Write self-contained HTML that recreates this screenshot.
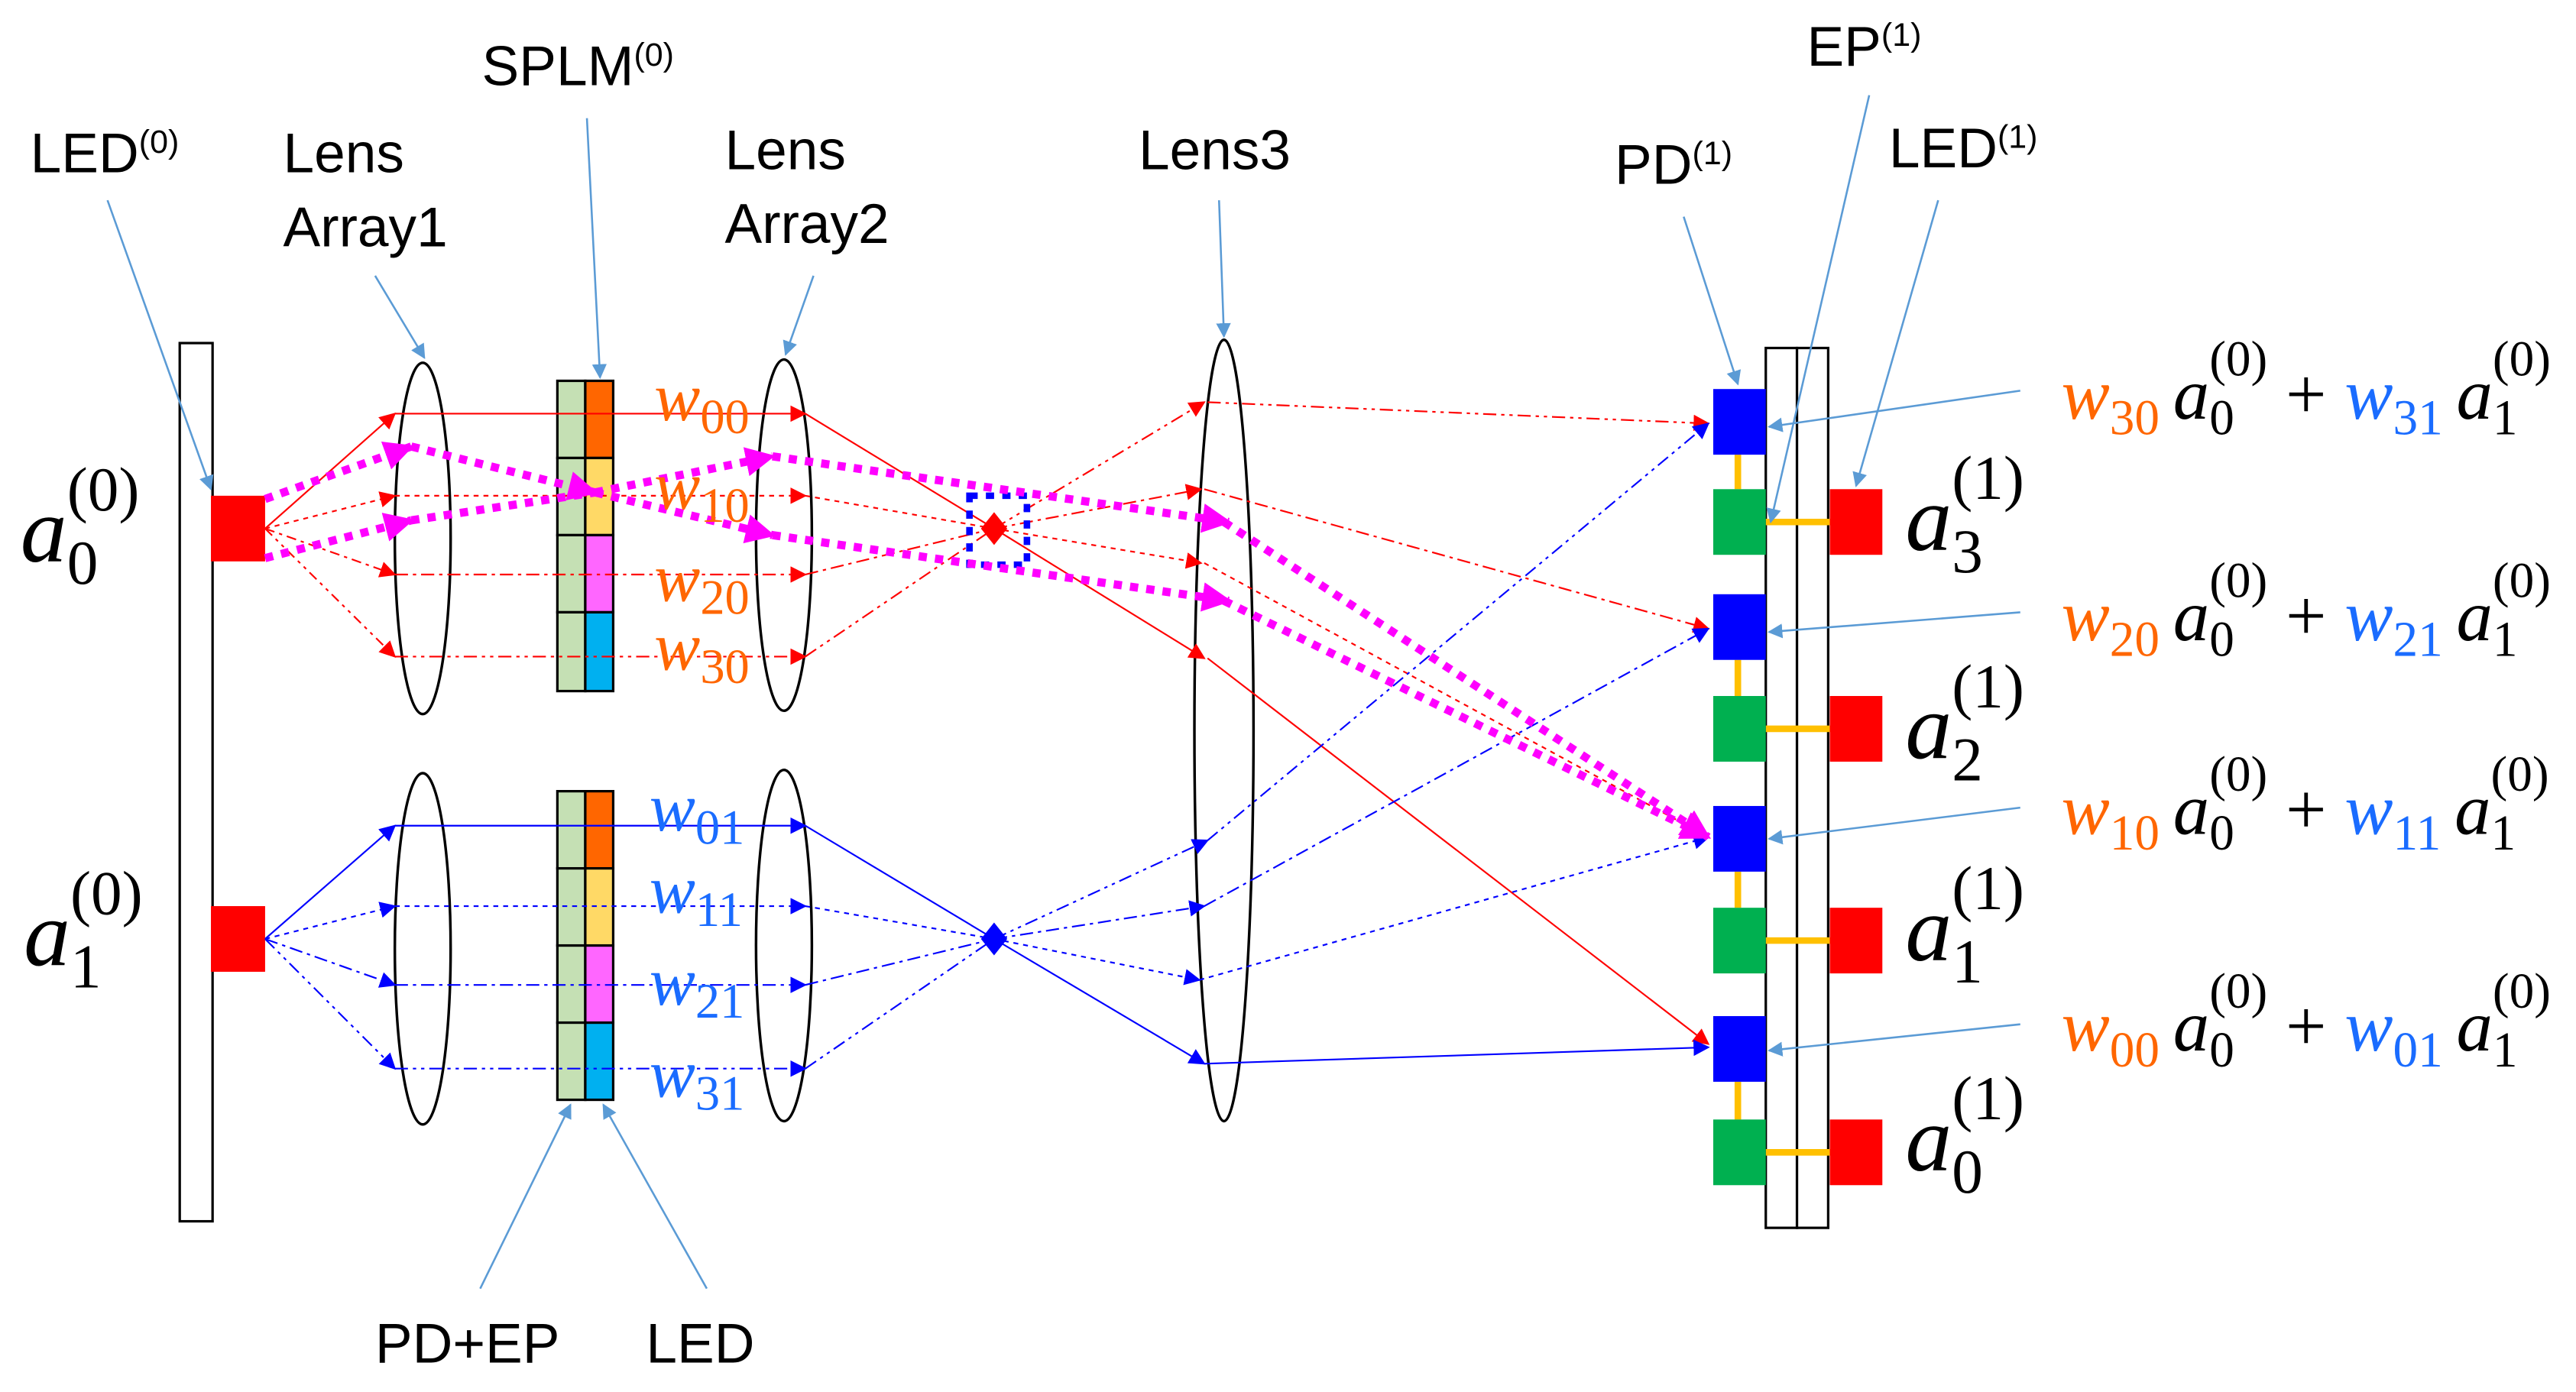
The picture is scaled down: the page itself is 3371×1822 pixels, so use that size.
<!DOCTYPE html>
<html><head><meta charset="utf-8"><style>
html,body{margin:0;padding:0;background:#fff;}
svg{display:block;}
.lbl{font-family:"Liberation Sans","DejaVu Sans",sans-serif;font-size:34px;fill:#000;}
.sup{font-size:20px;}
.m{font-family:"Liberation Serif","DejaVu Serif",serif;font-style:italic;}
.n{font-family:"Liberation Serif","DejaVu Serif",serif;font-style:normal;}
</style></head><body>
<svg width="3371" height="1822" viewBox="0 0 1568 848" xmlns="http://www.w3.org/2000/svg">
<defs>
<marker id="ar" viewBox="0 0 10 10" refX="9" refY="5" markerWidth="10" markerHeight="10" orient="auto" markerUnits="userSpaceOnUse"><path d="M0,0L10,5L0,10z" fill="#f00"/></marker>
<marker id="ab" viewBox="0 0 10 10" refX="9" refY="5" markerWidth="10" markerHeight="10" orient="auto" markerUnits="userSpaceOnUse"><path d="M0,0L10,5L0,10z" fill="#00f"/></marker>
<marker id="am" viewBox="0 0 10 10" refX="9" refY="5" markerWidth="18" markerHeight="18" orient="auto" markerUnits="userSpaceOnUse"><path d="M0,0L10,5L0,10z" fill="#f0f"/></marker>
<marker id="al" viewBox="0 0 10 10" refX="9" refY="5" markerWidth="9" markerHeight="9" orient="auto" markerUnits="userSpaceOnUse"><path d="M0,0L10,5L0,10z" fill="#5b9bd5"/></marker>
</defs>

<rect x="109" y="209" width="20" height="535" fill="#fff" stroke="#000" stroke-width="1.5"/>
<rect x="128" y="302" width="33" height="40" fill="#f00"/>
<rect x="128" y="552" width="33" height="40" fill="#f00"/>

<g fill="none" stroke="#000" stroke-width="1.6">
<ellipse cx="257" cy="328" rx="17" ry="107"/>
<ellipse cx="257" cy="578" rx="17" ry="107"/>
<ellipse cx="477" cy="326" rx="17" ry="107"/>
<ellipse cx="477" cy="576" rx="17" ry="107"/>
<ellipse cx="745" cy="445" rx="18" ry="238"/>
</g>

<g stroke="#000" stroke-width="1.5">
<rect x="339" y="232" width="17" height="47" fill="#c5e0b4"/><rect x="356" y="232" width="17" height="47" fill="#ff6600"/>
<rect x="339" y="279" width="17" height="47" fill="#c5e0b4"/><rect x="356" y="279" width="17" height="47" fill="#ffd966"/>
<rect x="339" y="326" width="17" height="47" fill="#c5e0b4"/><rect x="356" y="326" width="17" height="47" fill="#ff66ff"/>
<rect x="339" y="373" width="17" height="48" fill="#c5e0b4"/><rect x="356" y="373" width="17" height="48" fill="#00b0f0"/>
<rect x="339" y="482" width="17" height="47" fill="#c5e0b4"/><rect x="356" y="482" width="17" height="47" fill="#ff6600"/>
<rect x="339" y="529" width="17" height="47" fill="#c5e0b4"/><rect x="356" y="529" width="17" height="47" fill="#ffd966"/>
<rect x="339" y="576" width="17" height="47" fill="#c5e0b4"/><rect x="356" y="576" width="17" height="47" fill="#ff66ff"/>
<rect x="339" y="623" width="17" height="47" fill="#c5e0b4"/><rect x="356" y="623" width="17" height="47" fill="#00b0f0"/>
</g>

<g fill="none" stroke="#f00" stroke-width="1">
<path d="M161,322L240,252" marker-end="url(#ar)"/>
<path d="M161,322L240,302" stroke-dasharray="3,3" marker-end="url(#ar)"/>
<path d="M161,322L240,350" stroke-dasharray="6,3,2,3" marker-end="url(#ar)"/>
<path d="M161,322L240,400" stroke-dasharray="6,3,2,3,2,3" marker-end="url(#ar)"/>
<path d="M240,252L490,252" marker-end="url(#ar)"/>
<path d="M240,302L490,302" stroke-dasharray="3,3" marker-end="url(#ar)"/>
<path d="M240,350L490,350" stroke-dasharray="8,3,2,3" marker-end="url(#ar)"/>
<path d="M240,400L490,400" stroke-dasharray="8,3,2,3,2,3" marker-end="url(#ar)"/>
<path d="M735,401L1040,636" marker-end="url(#ar)"/>
<path d="M490,252L605,322"/>
<path d="M490,302L605,322" stroke-dasharray="3,3"/>
<path d="M490,350L605,322" stroke-dasharray="8,3,2,3"/>
<path d="M490,400L605,322" stroke-dasharray="8,3,2,3,2,3"/>
<path d="M605,322L731,298" stroke-dasharray="8,3,2,3" marker-end="url(#ar)"/>
<path d="M605,322L733,245" stroke-dasharray="8,3,2,3,2,3" marker-end="url(#ar)"/>
<path d="M605,322L731,343" stroke-dasharray="3,3" marker-end="url(#ar)"/>
<path d="M605,322L733,401" marker-end="url(#ar)"/>
<path d="M735,245L1040,258" stroke-dasharray="8,3,2,3,2,3" marker-end="url(#ar)"/>
<path d="M733,298L1040,383" stroke-dasharray="8,3,2,3" marker-end="url(#ar)"/>
<path d="M733,343L1040,510" stroke-dasharray="3,3" marker-end="url(#ar)"/>
</g>
<path d="M597,322l8,-10l8,10l-8,10z" fill="#f00"/>

<g fill="none" stroke="#00f" stroke-width="1">
<path d="M161,572L240,503" marker-end="url(#ab)"/>
<path d="M161,572L240,552" stroke-dasharray="3,3" marker-end="url(#ab)"/>
<path d="M161,572L240,600" stroke-dasharray="8,3,2,3" marker-end="url(#ab)"/>
<path d="M161,572L240,651" stroke-dasharray="8,3,2,3,2,3" marker-end="url(#ab)"/>
<path d="M240,503L490,503" marker-end="url(#ab)"/>
<path d="M240,552L490,552" stroke-dasharray="3,3" marker-end="url(#ab)"/>
<path d="M240,600L490,600" stroke-dasharray="8,3,2,3" marker-end="url(#ab)"/>
<path d="M240,651L490,651" stroke-dasharray="8,3,2,3,2,3" marker-end="url(#ab)"/>
<path d="M490,503L605,572" />
<path d="M490,552L605,572" stroke-dasharray="3,3"/>
<path d="M490,600L605,572" stroke-dasharray="8,3,2,3"/>
<path d="M490,651L605,572" stroke-dasharray="8,3,2,3,2,3"/>
<path d="M605,572L735,512" stroke-dasharray="8,3,2,3,2,3" marker-end="url(#ab)"/>
<path d="M605,572L733,552" stroke-dasharray="8,3,2,3" marker-end="url(#ab)"/>
<path d="M605,572L730,597" stroke-dasharray="3,3" marker-end="url(#ab)"/>
<path d="M605,572L733,648" marker-end="url(#ab)"/>
<path d="M735,512L1040,258" stroke-dasharray="8,3,2,3,2,3" marker-end="url(#ab)"/>
<path d="M733,552L1040,383" stroke-dasharray="8,3,2,3" marker-end="url(#ab)"/>
<path d="M730,597L1040,510" stroke-dasharray="3,3" marker-end="url(#ab)"/>
<path d="M733,648L1040,638" marker-end="url(#ab)"/>
</g>
<path d="M597,572l8,-10l8,10l-8,10z" fill="#00f"/>
<rect x="590" y="302" width="35" height="42" fill="none" stroke="#00f" stroke-width="4" stroke-dasharray="5,5"/>

<g fill="none" stroke="#f0f" stroke-width="5" stroke-dasharray="5,5">
<path d="M161,304L250,272" marker-end="url(#am)"/>
<path d="M161,340L250,317" marker-end="url(#am)"/>
<path d="M250,272L362,300" marker-end="url(#am)"/>
<path d="M250,317L362,300"/>
<path d="M362,300L470,278" marker-end="url(#am)"/>
<path d="M362,300L470,326" marker-end="url(#am)"/>
<path d="M470,278L748,318" marker-end="url(#am)"/>
<path d="M470,326L748,366" marker-end="url(#am)"/>
<path d="M745,318L1040,510" marker-end="url(#am)"/>
<path d="M745,366L1040,510" marker-end="url(#am)"/>
</g>

<rect x="1075" y="212" width="19" height="536" fill="#fff" stroke="#000" stroke-width="1.5"/>
<rect x="1094" y="212" width="19" height="536" fill="#fff" stroke="#000" stroke-width="1.5"/>
<g stroke="#ffc000" stroke-width="4">
<line x1="1058" y1="277" x2="1058" y2="298"/><line x1="1075" y1="318" x2="1114" y2="318"/>
<line x1="1058" y1="402" x2="1058" y2="424"/><line x1="1075" y1="444" x2="1114" y2="444"/>
<line x1="1058" y1="531" x2="1058" y2="553"/><line x1="1075" y1="573" x2="1114" y2="573"/>
<line x1="1058" y1="659" x2="1058" y2="682"/><line x1="1075" y1="702" x2="1114" y2="702"/>
</g>
<g fill="#0000ff">
<rect x="1043" y="237" width="32" height="40"/><rect x="1043" y="362" width="32" height="40"/>
<rect x="1043" y="491" width="32" height="40"/><rect x="1043" y="619" width="32" height="40"/>
</g>
<g fill="#00b050">
<rect x="1043" y="298" width="32" height="40"/><rect x="1043" y="424" width="32" height="40"/>
<rect x="1043" y="553" width="32" height="40"/><rect x="1043" y="682" width="32" height="40"/>
</g>
<g fill="#f00">
<rect x="1114" y="298" width="32" height="40"/><rect x="1114" y="424" width="32" height="40"/>
<rect x="1114" y="553" width="32" height="40"/><rect x="1114" y="682" width="32" height="40"/>
</g>

<g stroke="#5b9bd5" stroke-width="1.2" fill="none" marker-end="url(#al)">
<path d="M65,122L128,298"/>
<path d="M228,168L258,218"/>
<path d="M357,72L365,230"/>
<path d="M495,168L478,216"/>
<path d="M742,122L745,205"/>
<path d="M1025,132L1058,234"/>
<path d="M1138,58L1078,318"/>
<path d="M1180,122L1130,296"/>
<path d="M292,785L347,673"/>
<path d="M430,785L367,673"/>
<path d="M1230,238L1077,260"/>
<path d="M1230,373L1077,385"/>
<path d="M1230,492L1077,511"/>
<path d="M1230,624L1077,640"/>
</g>

<text class="lbl" x="18" y="105">LED<tspan class="sup" dy="-12">(0)</tspan></text>
<text class="lbl" x="172" y="105">Lens</text>
<text class="lbl" x="172" y="150">Array1</text>
<text class="lbl" x="293" y="52">SPLM<tspan class="sup" dy="-12">(0)</tspan></text>
<text class="lbl" x="441" y="103">Lens</text>
<text class="lbl" x="441" y="148">Array2</text>
<text class="lbl" x="693" y="103">Lens3</text>
<text class="lbl" x="983" y="112">PD<tspan class="sup" dy="-12">(1)</tspan></text>
<text class="lbl" x="1100" y="40">EP<tspan class="sup" dy="-12">(1)</tspan></text>
<text class="lbl" x="1150" y="102">LED<tspan class="sup" dy="-12">(1)</tspan></text>
<text class="lbl" x="228" y="830">PD+EP</text>
<text class="lbl" x="393" y="830">LED</text>

<g font-size="42">
<g transform="translate(12,342) scale(1.35)"><text class="m">a<tspan class="n" font-size="28" dy="10">0</tspan><tspan class="n" font-size="28" dx="-14" dy="-33">(0)</tspan></text></g>
<g transform="translate(14,588) scale(1.35)"><text class="m">a<tspan class="n" font-size="28" dy="10">1</tspan><tspan class="n" font-size="28" dx="-14" dy="-33">(0)</tspan></text></g>
<g transform="translate(1160,335) scale(1.35)"><text class="m">a<tspan class="n" font-size="28" dy="10">3</tspan><tspan class="n" font-size="28" dx="-14" dy="-33">(1)</tspan></text></g>
<g transform="translate(1160,462) scale(1.35)"><text class="m">a<tspan class="n" font-size="28" dy="10">2</tspan><tspan class="n" font-size="28" dx="-14" dy="-33">(1)</tspan></text></g>
<g transform="translate(1160,585) scale(1.35)"><text class="m">a<tspan class="n" font-size="28" dy="10">1</tspan><tspan class="n" font-size="28" dx="-14" dy="-33">(1)</tspan></text></g>
<g transform="translate(1160,713) scale(1.35)"><text class="m">a<tspan class="n" font-size="28" dy="10">0</tspan><tspan class="n" font-size="28" dx="-14" dy="-33">(1)</tspan></text></g>
</g>

<g font-size="42" class="m">
<text x="398" y="256" fill="#ff6600">w<tspan class="n" font-size="30" dy="8">00</tspan></text>
<text x="398" y="310" fill="#ff6600">w<tspan class="n" font-size="30" dy="8">10</tspan></text>
<text x="398" y="366" fill="#ff6600">w<tspan class="n" font-size="30" dy="8">20</tspan></text>
<text x="398" y="408" fill="#ff6600">w<tspan class="n" font-size="30" dy="8">30</tspan></text>
<text x="395" y="506" fill="#1a6cff">w<tspan class="n" font-size="30" dy="8">01</tspan></text>
<text x="395" y="556" fill="#1a6cff">w<tspan class="n" font-size="30" dy="8">11</tspan></text>
<text x="395" y="612" fill="#1a6cff">w<tspan class="n" font-size="30" dy="8">21</tspan></text>
<text x="395" y="668" fill="#1a6cff">w<tspan class="n" font-size="30" dy="8">31</tspan></text>
</g>

<g font-size="32" class="m">
<g transform="translate(1255,255) scale(1.38)">
<text><tspan fill="#ff6600">w<tspan class="n" font-size="22" dy="7">30</tspan></tspan><tspan dy="-7" dx="6">a<tspan class="n" font-size="22" dy="7">0</tspan><tspan class="n" font-size="22" dx="-11" dy="-26">(0)</tspan></tspan><tspan class="n" dy="19" dx="8">+ </tspan><tspan fill="#1a6cff">w<tspan class="n" font-size="22" dy="7">31</tspan></tspan><tspan dy="-7" dx="6">a<tspan class="n" font-size="22" dy="7">1</tspan><tspan class="n" font-size="22" dx="-11" dy="-26">(0)</tspan></tspan></text>
</g>
<g transform="translate(1255,390) scale(1.38)">
<text><tspan fill="#ff6600">w<tspan class="n" font-size="22" dy="7">20</tspan></tspan><tspan dy="-7" dx="6">a<tspan class="n" font-size="22" dy="7">0</tspan><tspan class="n" font-size="22" dx="-11" dy="-26">(0)</tspan></tspan><tspan class="n" dy="19" dx="8">+ </tspan><tspan fill="#1a6cff">w<tspan class="n" font-size="22" dy="7">21</tspan></tspan><tspan dy="-7" dx="6">a<tspan class="n" font-size="22" dy="7">1</tspan><tspan class="n" font-size="22" dx="-11" dy="-26">(0)</tspan></tspan></text>
</g>
<g transform="translate(1255,508) scale(1.38)">
<text><tspan fill="#ff6600">w<tspan class="n" font-size="22" dy="7">10</tspan></tspan><tspan dy="-7" dx="6">a<tspan class="n" font-size="22" dy="7">0</tspan><tspan class="n" font-size="22" dx="-11" dy="-26">(0)</tspan></tspan><tspan class="n" dy="19" dx="8">+ </tspan><tspan fill="#1a6cff">w<tspan class="n" font-size="22" dy="7">11</tspan></tspan><tspan dy="-7" dx="6">a<tspan class="n" font-size="22" dy="7">1</tspan><tspan class="n" font-size="22" dx="-11" dy="-26">(0)</tspan></tspan></text>
</g>
<g transform="translate(1255,640) scale(1.38)">
<text><tspan fill="#ff6600">w<tspan class="n" font-size="22" dy="7">00</tspan></tspan><tspan dy="-7" dx="6">a<tspan class="n" font-size="22" dy="7">0</tspan><tspan class="n" font-size="22" dx="-11" dy="-26">(0)</tspan></tspan><tspan class="n" dy="19" dx="8">+ </tspan><tspan fill="#1a6cff">w<tspan class="n" font-size="22" dy="7">01</tspan></tspan><tspan dy="-7" dx="6">a<tspan class="n" font-size="22" dy="7">1</tspan><tspan class="n" font-size="22" dx="-11" dy="-26">(0)</tspan></tspan></text>
</g>
</g>
</svg>
</body></html>
